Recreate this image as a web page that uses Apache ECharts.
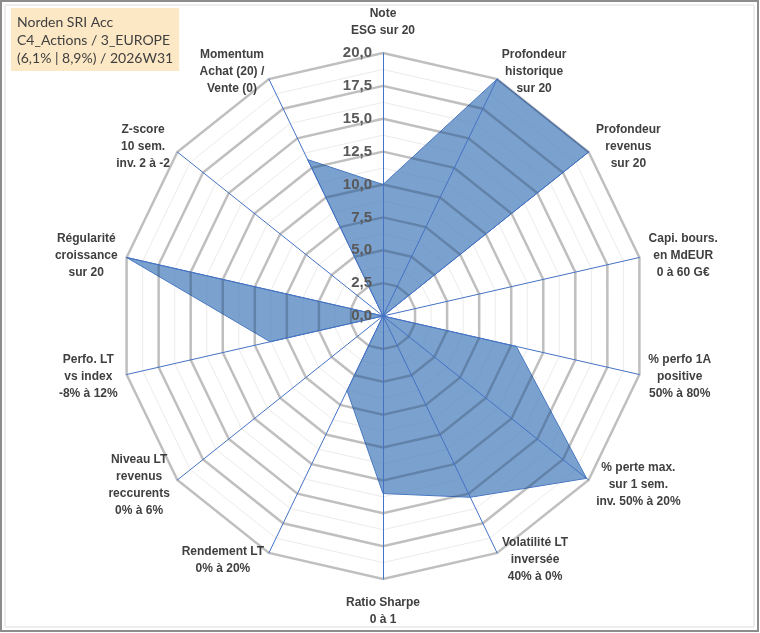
<!DOCTYPE html>
<html>
<head>
<meta charset="utf-8">
<script src="https://cdn.jsdelivr.net/npm/echarts@6/dist/echarts.min.js"></script>
<style>
html, body { margin: 0; padding: 0; background: #fff; }
#chart { width: 760px; height: 633px; }
</style>
</head>
<body>
<div id="chart"></div>
<script>
// axes, in Excel order (clockwise from the top)
var categories = [
    'Note\nESG sur 20',
    'Profondeur\nhistorique\nsur 20',
    'Profondeur\nrevenus\nsur 20',
    'Capi. bours.\nen MdEUR\n0 à 60 G€',
    '% perfo 1A\npositive\n50% à 80%',
    '% perte max.\nsur 1 sem.\ninv. 50% à 20%',
    'Volatilité LT\ninversée\n40% à 0%',
    'Ratio Sharpe\n0 à 1',
    'Rendement LT\n0% à 20%',
    'Niveau LT\nrevenus\nreccurents\n0% à 6%',
    'Perfo. LT\nvs index\n-8% à 12%',
    'Régularité\ncroissance\nsur 20',
    'Z-score\n10 sem.\ninv. 2 à -2',
    'Momentum\nAchat (20) /\nVente (0)'
];
var scores = [10, 20, 20, 0, 10.4, 19.8, 15.3, 13.5, 6.3, 0, 8.8, 20, 0, 13.2];
var axisMax = 20;
var titleLines = ['Norden SRI Acc', 'C4_Actions / 3_EUROPE', '(6,1% | 8,9%) / 2026W31'];

// echarts turns counter-clockwise, Excel clockwise -> reorder
var order = [0];
for (var i = categories.length - 1; i > 0; i--) order.push(i);

var nameFont = {fontFamily: 'Liberation Sans', fontWeight: 'bold', fontSize: 12, lineHeight: 17, color: '#404040'};

// width of each label block so the lines can be centred like in Excel
var cv = document.createElement('canvas').getContext('2d');
cv.font = 'bold 12px "Liberation Sans"';
var rich = {};
categories.forEach(function (c, k) {
    var w = 0;
    c.split('\n').forEach(function (l) { w = Math.max(w, cv.measureText(l).width); });
    rich['n' + k] = Object.assign({width: Math.ceil(w) + 2, align: 'center'}, nameFont);
});

var minorInd = [], baseInd = [], topInd = [], values = [];
order.forEach(function (k, n) {
    minorInd.push({name: '', min: 0, max: axisMax});
    topInd.push({name: '', min: 0, max: axisMax});
    var ind = {name: categories[k], min: 0, max: axisMax};
    if (k === 0) ind.nameGap = 14;
    if (k === 7) ind.nameGap = 15;
    baseInd.push(ind);
    values.push(scores[k]);
});
topInd[0].axisLabel = {
    show: true,
    margin: 0,
    align: 'right',
    padding: [0, 11, 0, 0],
    fontFamily: 'Liberation Sans',
    fontWeight: 'bold',
    fontSize: 15,
    color: '#595959',
    formatter: function (v) { return v.toFixed(1).replace('.', ','); }
};

var center = [383, 316];
var radius = 263;

var dom = document.getElementById('chart');
var myChart = echarts.init(dom);

var option = {
    animation: false,
    title: {
        text: titleLines.join('\n'),
        left: 11,
        top: 8,
        backgroundColor: '#FCE8C5',
        padding: [5, 6, 4, 6],
        textStyle: {
            fontFamily: 'Lato',
            fontWeight: 'normal',
            fontSize: 14,
            lineHeight: 18,
            color: '#404040'
        }
    },
    radar: [
        {
            // thin minor rings
            center: center,
            radius: radius,
            splitNumber: 16,
            indicator: minorInd,
            axisName: {show: false},
            axisLine: {show: false},
            axisTick: {show: false},
            axisLabel: {show: false},
            splitArea: {show: false},
            splitLine: {lineStyle: {color: '#EBEBEB', width: 1}}
        },
        {
            // main rings + names
            center: center,
            radius: radius,
            splitNumber: 8,
            indicator: baseInd,
            nameGap: 8,
            axisName: Object.assign({
                formatter: function (name) {
                    var k = categories.indexOf(name);
                    return name.split('\n').map(function (l) { return '{n' + k + '|' + l + '}'; }).join('\n');
                },
                rich: rich
            }, nameFont),
            axisLine: {show: false},
            axisTick: {show: false},
            axisLabel: {show: false},
            splitArea: {show: false},
            splitLine: {lineStyle: {color: '#E1E1E1', width: 2.5}}
        },
        {
            // darkening pass over the area, spokes and tick labels on top
            center: center,
            radius: radius,
            splitNumber: 8,
            z: 3,
            indicator: topInd,
            axisName: {show: false},
            axisLine: {lineStyle: {color: '#4472C4', width: 1}},
            axisTick: {show: false},
            axisLabel: {show: false},
            splitArea: {show: false},
            splitLine: {lineStyle: {color: 'rgba(0,0,0,0.15)', width: 2.5}}
        }
    ],
    series: [
        {
            type: 'radar',
            radarIndex: 1,
            z: 2,
            symbol: 'none',
            lineStyle: {color: '#4472C4', width: 1},
            areaStyle: {color: '#4F81BD', opacity: 0.75},
            data: [{value: values, name: 'score'}]
        }
    ],
    graphic: [
        {type: 'rect', shape: {x: 1, y: 1, width: 757, height: 630}, style: {fill: 'none', stroke: '#8C8C8C', lineWidth: 2}},
        {type: 'rect', shape: {x: 5, y: 5, width: 749, height: 622}, style: {fill: 'none', stroke: '#DDDDDD', lineWidth: 1}}
    ]
};

if (option && typeof option === 'object') {
    myChart.setOption(option, true);
}
</script>
</body>
</html>
